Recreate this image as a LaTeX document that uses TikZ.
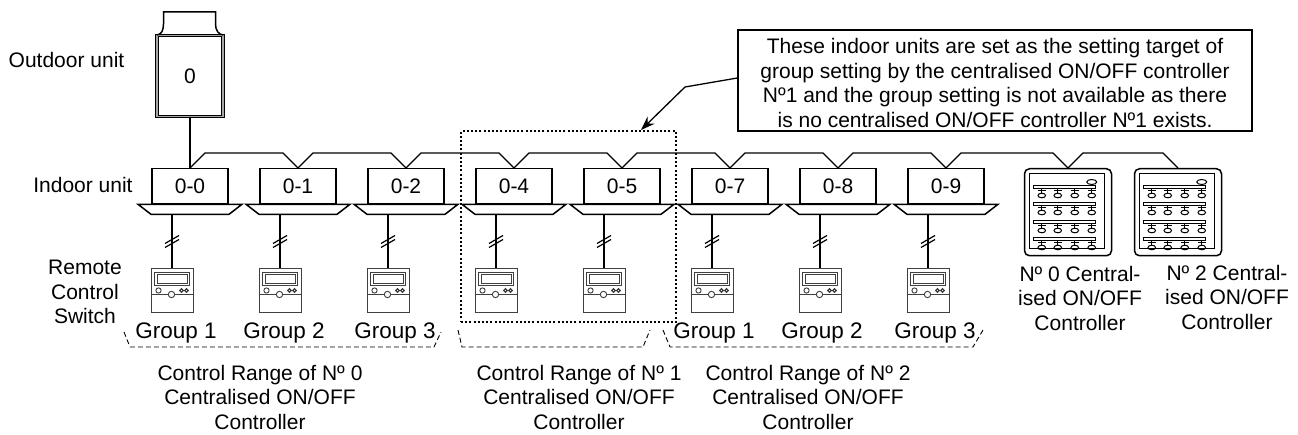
\documentclass[tikz,border=0pt]{standalone}
\usepackage{fontspec}
\setmainfont{Liberation Sans}
\usetikzlibrary{arrows.meta,positioning,calc}

\tikzset{
  lbl/.style={font=\fontsize{21pt}{24.5pt}\selectfont, align=center, inner sep=0pt},
  grp/.style={font=\fontsize{22.5pt}{26pt}\selectfont, inner sep=0pt},
  unitline/.style={line width=1.5pt, line join=miter},
  indoor/.style={draw, unitline, minimum width=76pt, minimum height=35pt, inner sep=0pt,
    anchor=north, font=\fontsize{21pt}{24pt}\selectfont},
  outdoor/.style={draw, line width=1pt, double=black!35, double distance=1.6pt,
    minimum width=66pt, minimum height=81pt, inner sep=0pt, font=\fontsize{21pt}{24pt}\selectfont},
  bus/.style={line width=1.3pt},
  cord/.style={line width=1.2pt},
  remote/.style={draw=black!75, line width=1pt, minimum width=42pt, minimum height=44pt, inner sep=0pt},
  central/.style={draw, line width=1.5pt, rounded corners=5pt, minimum width=87pt, minimum height=87pt,
    inner sep=0pt, anchor=north},
  % face of a remote control switch, origin at its top left corner
  rcface/.pic={
    \begin{scope}[draw=black!75, line width=0.9pt]
      \draw (0,26) -- (42,26);
      \draw (4,4) rectangle (39,17);
      \draw (7,5.5) rectangle (37,15);
      \draw (8,22) circle [radius=2.6pt];
      \draw[fill=white] (21,26) circle [radius=3.2pt];
      \draw[line width=1.3pt] (31,22) circle [radius=1.8pt] (36,22) circle [radius=1.8pt];
    \end{scope}},
  % face of a centralised controller, origin at its top left corner
  ccface/.pic={
    \begin{scope}[line width=1pt]
      \draw (6,6) rectangle (81,81);
      \draw (68,14) ellipse [x radius=5pt, y radius=2.5pt];
      \foreach \by in {18,35,53,70} {
        \draw (10,\by) rectangle (72,\by+3);
        \foreach \bx in {18,34,51,68} {
          \draw (\bx-4,\by+5) -- (\bx+4,\by+5) (\bx,\by+3) -- (\bx,\by+7);
          \draw (\bx,\by+9.5) ellipse [x radius=3.8pt, y radius=2.3pt];
        }
      }
    \end{scope}},
  notebox/.style={draw, line width=1.3pt, minimum width=514pt, minimum height=101pt, inner sep=0pt},
  notetext/.style={lbl, yshift=-2.5pt},
  selbox/.style={draw, line width=2pt, dash pattern=on 2pt off 2.2pt,
    minimum width=215pt, minimum height=191pt, inner sep=0pt},
  rangeline/.style={line width=0.9pt, dash pattern=on 5pt off 3pt},
  callout/.style={-{Stealth[length=14pt,width=10pt]}, line width=1.3pt}
}

\begin{document}
\begin{tikzpicture}[x=1pt, y=-1pt]
  \path[use as bounding box, fill=white] (0,0) rectangle (1298,435);

  % outdoor unit with its top cap
  \node[outdoor] (odu) at (190,76) {0};
  \draw[unitline] (odu.north west) .. controls +(5,0) and +(0,6) .. ++(7,-11) -- ++(0,-12)
    -- ++(52,0) -- ++(0,12) .. controls +(0,6) and +(-5,0) .. (odu.north east);
  \node[lbl, anchor=base] (odulbl) at (66.5,68) {Outdoor unit};

  % indoor units, each with its remote control switch
  \foreach \n/\x in {0/190,1/298,2/406,4/514,5/622,7/730,8/838,9/946} {
    \node[indoor] (u\n) at (\x,168) {0-\n};
    \draw[unitline] ($(u\n.south west)+(-13,0)$) -- ($(u\n.south east)+(13,0)$)
      -- ($(u\n.south east)+(0,10)$) -- ($(u\n.south west)+(0,10)$) -- cycle;
    \coordinate (t\n) at ($(u\n.south)+(-18,10)$);
    \node[remote, below=54pt of t\n] (r\n) {};
    \pic at (r\n.north west) {rcface};
    \draw[cord] (t\n) -- (r\n);
    \draw[cord] ($(t\n)+(-7,29)$) -- ++(14,-8) ($(t\n)+(-7,33)$) -- ++(14,-8);
  }
  \node[lbl, anchor=base] (iulbl) at (83,193) {Indoor unit};
  \node[lbl] (rclbl) at (85,292) {Remote\\Control\\Switch};

  % centralised controllers
  \node[central] (c0) at (1068,168) {};
  \node[central] (c2) at (1178,168) {};
  \pic at (c0.north west) {ccface};
  \pic at (c2.north west) {ccface};
  \node[lbl] (c0lbl) at (1080,298) {Nº 0 Central-\\ised ON/OFF\\Controller};
  \node[lbl] (c2lbl) at (1227,297) {Nº 2 Central-\\ised ON/OFF\\Controller};

  % transmission line
  \draw[bus] (odu.south) -- (u0.north);
  \draw[bus] (u0.north) -- ++(15,-15)
    \foreach \n in {u1,u2,u4,u5,u7,u8,u9,c0} { -- ($(\n.north)+(-15,-15)$) -- (\n.north) -- ++(15,-15) }
    -- ($(c2.north)+(-15,-15)$) -- (c2.north);

  % group names
  \foreach \n/\k/\dx in {0/1/4,1/2/4,2/3/7,7/1/2,8/2/2,9/3/7}
    \node[grp, below=9.5pt of r\n, xshift=\dx pt] (g\n) {Group \k};

  % control ranges
  \draw[rangeline] (124,332) -- (130,347) -- (434,347) -- (441,332);
  \draw[rangeline] (458,330) -- (462,347) -- (643,347) -- (650,330);
  \draw[rangeline] (663,330) -- (670,347) -- (973,347) -- (983,330);
  \node[lbl] (rng0) at (260,397) {Control Range of Nº 0\\Centralised ON/OFF\\Controller};
  \node[lbl] (rng1) at (579,397) {Control Range of Nº 1\\Centralised ON/OFF\\Controller};
  \node[lbl] (rng2) at (808,397) {Control Range of Nº 2\\Centralised ON/OFF\\Controller};

  % units without a controller, and the note
  \node[selbox] (sel) at (568.5,226.5) {};
  \node[notebox, label={[notetext]center:{These indoor units are set as the setting target of\\
    group setting by the centralised ON/OFF controller\\
    Nº1 and the group setting is not available as there\\
    is no centralised ON/OFF controller Nº1 exists.}}] (note) at (995,80.5) {};
  \coordinate (bend) at (685,87);
  \draw[callout] ([yshift=2.5pt]note.west) -- (bend) -- ([xshift=-36pt]sel.north east);
\end{tikzpicture}
\end{document}
